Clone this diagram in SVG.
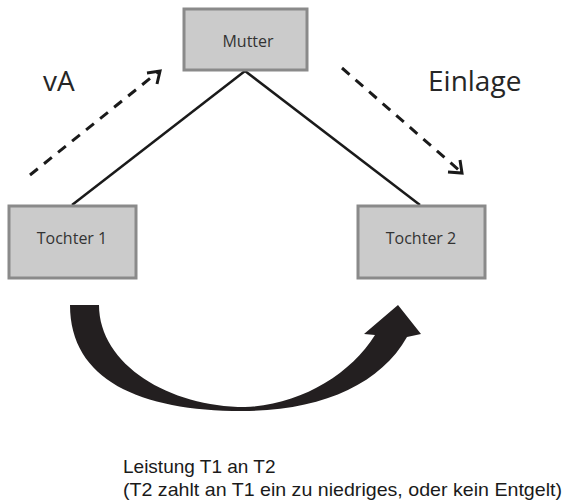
<svg xmlns="http://www.w3.org/2000/svg" width="564" height="503" viewBox="0 0 564 503">
<style>
.box{fill:#cbcbcb;stroke:#8a8a8a;stroke-width:3}
.lbl{font-family:"Open Sans","Liberation Sans",sans-serif;font-size:16px;fill:#333;text-anchor:middle}
.big{font-family:"Open Sans","Liberation Sans",sans-serif;font-size:28px;fill:#262626}
.txt{font-family:"Liberation Sans",Arial,sans-serif;font-size:19px;fill:#1a1a1a}
.line{stroke:#1a1a1a;stroke-width:2.5;fill:none}
.dash{stroke:#1a1a1a;stroke-width:3;fill:none;stroke-dasharray:10 8}
</style>
<rect width="564" height="503" fill="#fff"/>
<g id="connectors">
<line class="line" x1="245" y1="71" x2="72" y2="205"/>
<line class="line" x1="245" y1="71" x2="420" y2="205"/>
<path class="dash" d="M30,175 L158,72"/>
<path d="M147,73 L160,71 L157,84" fill="none" stroke="#1a1a1a" stroke-width="3"/>
<path class="dash" d="M342,68 L460,171"/>
<path d="M448,172 L462,173 L460,160" fill="none" stroke="#1a1a1a" stroke-width="3"/>
<path d="M70,305 C70,380 140,411 242,411 C320,411 380,385 407,337 L421,334 L398,305 L364,334 L375,335 C350,375 300,405 245,407 C170,407 99,365 99,305 Z" fill="#231f20"/>
</g>
<g id="mutter">
<rect class="box" x="184" y="9" width="123" height="61"/>
<text class="lbl" x="248" y="47">Mutter</text>
</g>
<g id="tochter1">
<rect class="box" x="9" y="206" width="127" height="72"/>
<text class="lbl" x="72" y="244">Tochter 1</text>
</g>
<g id="tochter2">
<rect class="box" x="358" y="206" width="127" height="72"/>
<text class="lbl" x="421" y="244">Tochter 2</text>
</g>
<g id="labels">
<text class="big" x="43" y="91">vA</text>
<text class="big" x="428" y="91">Einlage</text>
<text class="txt" x="123" y="473">Leistung T1 an T2</text>
<text class="txt" x="123" y="496" textLength="439" lengthAdjust="spacingAndGlyphs">(T2 zahlt an T1 ein zu niedriges, oder kein Entgelt)</text>
</g>
</svg>
